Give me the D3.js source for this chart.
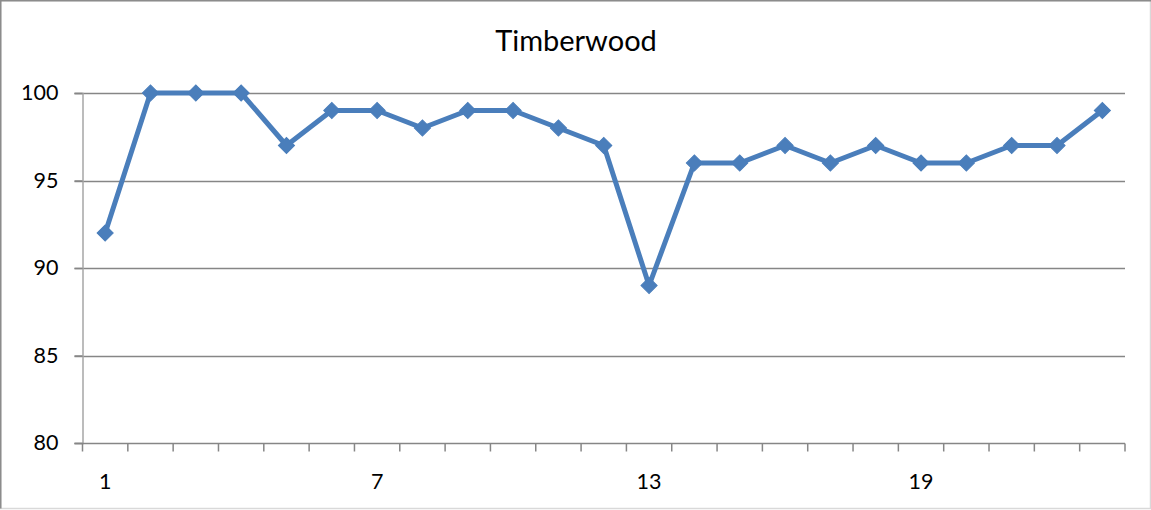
<!DOCTYPE html>
<html>
<head>
<meta charset="utf-8">
<script src="https://cdn.jsdelivr.net/npm/d3@7"></script>
<style>
  html, body { margin: 0; padding: 0; background: #fff; }
  svg { display: block; font-family: Lato, "Open Sans", sans-serif; }
</style>
</head>
<body>
<svg id="chart" width="1151" height="510"></svg>
<script>
// Series data
const title = "Timberwood";
const categories = d3.range(1, 24);
const values = [92, 100, 100, 100, 97, 99, 99, 98, 99, 99, 98, 97, 89, 96, 96, 97, 96, 97, 96, 96, 97, 97, 99];
const yTicks = [80, 85, 90, 95, 100];
const xLabels = [1, 7, 13, 19];

const W = 1151, H = 510;
const margin = { left: 82.5, right: 26, top: 93, bottom: 67 };
const svg = d3.select("#chart");

// chart frame
svg.append("rect").attr("x", 0.5).attr("y", 0.5).attr("width", W - 1).attr("height", H - 2)
  .attr("fill", "#fff").attr("stroke", "#d9d9d9").attr("stroke-width", 1.5);
svg.append("path").attr("d", `M0.75,${H - 1.5}V0.75H${W}`)
  .attr("fill", "none").attr("stroke", "#8c8c8c").attr("stroke-width", 1.5);

const x = d3.scaleBand().domain(categories).range([margin.left, W - margin.right]);
const y = d3.scaleLinear().domain([80, 100]).range([H - margin.bottom, margin.top]);

// horizontal gridlines
svg.append("g").selectAll("line").data(yTicks.filter(d => d !== 80)).join("line")
  .attr("x1", margin.left - 8).attr("x2", W - margin.right)
  .attr("y1", d => Math.round(y(d)) + 0.5).attr("y2", d => Math.round(y(d)) + 0.5)
  .attr("stroke", "#868686").attr("stroke-width", 1.5);

// y axis
const yAxis = svg.append("g").attr("transform", `translate(${margin.left},0)`)
  .call(d3.axisLeft(y).tickValues(yTicks).tickSize(8).tickPadding(16));
yAxis.select(".domain").attr("stroke", "#a6a6a6").attr("stroke-width", 1.5);
yAxis.selectAll(".tick line").attr("stroke", "#868686").attr("stroke-width", 1.5);
yAxis.selectAll("text").attr("font-size", 21.5).attr("fill", "#000").attr("font-family", "Lato, sans-serif");

// x axis: ticks at category boundaries
const xg = svg.append("g");
const baseY = Math.round(y(80)) + 0.5;
xg.append("line").attr("x1", margin.left - 8).attr("x2", W - margin.right)
  .attr("y1", baseY).attr("y2", baseY).attr("stroke", "#868686").attr("stroke-width", 1.5);
const bounds = categories.map(c => x(c)).concat([x(categories[categories.length - 1]) + x.bandwidth()]);
xg.selectAll("line.tk").data(bounds).join("line").attr("class", "tk")
  .attr("x1", d => d).attr("x2", d => d).attr("y1", baseY).attr("y2", baseY + 8)
  .attr("stroke", "#868686").attr("stroke-width", 1.5);
xg.selectAll("text").data(xLabels).join("text")
  .attr("x", d => x(d) + x.bandwidth() / 2).attr("y", baseY + 45)
  .attr("text-anchor", "middle").attr("font-size", 21.5).attr("fill", "#000").text(d => d);

// series line
const pts = categories.map((c, i) => [x(c) + x.bandwidth() / 2, y(values[i])]);
svg.append("path").datum(pts)
  .attr("d", d3.line())
  .attr("fill", "none").attr("stroke", "#4a7ebb").attr("stroke-width", 5)
  .attr("stroke-linejoin", "round");

// diamond markers
svg.append("g").selectAll("path").data(pts).join("path")
  .attr("transform", d => `translate(${d[0]},${d[1]}) rotate(45)`)
  .attr("d", d3.symbol().type(d3.symbolSquare).size(130))
  .attr("fill", "#4a7ebb").attr("stroke", "#4a7ebb").attr("stroke-width", 1);

// title
svg.append("text").attr("x", 576).attr("y", 51).attr("text-anchor", "middle")
  .attr("font-size", 29).attr("fill", "#000").text(title);
</script>
</body>
</html>
